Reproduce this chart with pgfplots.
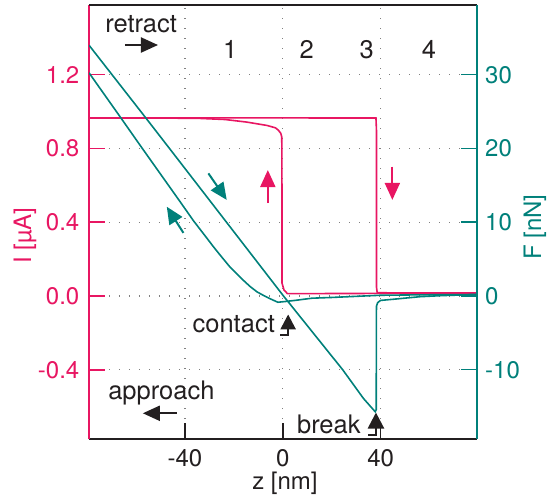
\documentclass[border=0pt]{standalone}
\usepackage{pgfplots}
\pgfplotsset{compat=1.18}
\usepackage{fontspec}
\setmainfont{TeX Gyre Heros}
\usetikzlibrary{arrows.meta}
\definecolor{ipink}{RGB}{232,22,98}
\definecolor{fteal}{RGB}{0,128,122}
\definecolor{txt}{RGB}{35,31,32}
\newcommand{\lblfont}{\fontsize{24bp}{28bp}\selectfont}
\newcommand{\annfont}{\fontsize{25.5bp}{30bp}\selectfont}
\pgfplotsset{
  myaxis/.style={
    scale only axis, width=388bp, height=434bp,
    xmin=-79.2, xmax=79.4,
    tick align=inside, major tick length=16bp,
    every tick label/.append style={font=\lblfont},
  },
}
\tikzset{ann/.style={-{Triangle[width=15bp,length=17bp]}, line width=2bp}}
\begin{document}
\begin{tikzpicture}
\begin{axis}[myaxis,
  ymin=-0.7755, ymax=1.578,
  axis x line*=bottom, axis y line*=left,
  x axis line style={draw=txt, line width=1.3bp},
  y axis line style={draw=ipink, line width=1.5bp},
  xtick={-40,0,40}, xticklabels={-40,0,40},
  ytick={-0.4,0,0.4,0.8,1.2}, yticklabels={-0.4,0.0,0.4,0.8,1.2},
  xtick style={draw=txt, line width=1.5bp},
  ytick style={draw=ipink, line width=1.5bp},
  xticklabel style={color=txt, inner sep=0pt, yshift=-10bp},
  yticklabel style={color=ipink, inner sep=0pt, xshift=-9.5bp},
  grid=major,
  major grid style={draw=gray, line width=1.3bp, dash pattern=on 1.3bp off 8.7bp},
  xlabel={z [nm]}, ylabel={I [µA]},
  every axis x label/.style={at={(axis description cs:0.505,-0.101)}, anchor=center, inner sep=0pt, color=txt, font=\lblfont},
  every axis y label/.style={at={(axis description cs:-0.165,0.468)}, rotate=90, anchor=center, inner sep=0pt, color=ipink, font=\lblfont},
]
\coordinate (SW) at (rel axis cs:0,0);
\coordinate (NE) at (rel axis cs:1,1);
% approach current
\addplot[ipink, line width=1.6bp] coordinates {
(-79.2,0.965) (-50,0.965) (-34,0.963) (-23.6,0.957) (-14.7,0.943) (-6.5,0.925)
(-3,0.912) (-1.8,0.899) (-0.8,0.882) (-0.4,0.862) (-0.3,0.5) (-0.3,0.07)
(0.5,0.033) (1.9,0.013) (10,0.013) (40,0.014) (79.4,0.015)
};
% retract current
\addplot[ipink, line width=1.6bp] coordinates {
(-79.2,0.965) (-40,0.966) (0,0.966) (20,0.965) (38.1,0.965) (38.3,0.9)
(38.3,0.05) (38.6,0.018) (50,0.016) (79.4,0.016)
};
% annotations
\node[anchor=base west, inner sep=0pt, font=\annfont, color=txt] at (axis cs:-72.6,1.428) {retract};
\draw[ann, txt] (axis cs:-64.5,1.361) -- (axis cs:-51.0,1.361);
\node[anchor=base, inner sep=0pt, font=\annfont, color=txt] at (axis cs:-21.5,1.289) {1};
\node[anchor=base, inner sep=0pt, font=\annfont, color=txt] at (axis cs:9.8,1.289) {2};
\node[anchor=base, inner sep=0pt, font=\annfont, color=txt] at (axis cs:34.3,1.289) {3};
\node[anchor=base, inner sep=0pt, font=\annfont, color=txt] at (axis cs:59.8,1.289) {4};
\draw[ann, fteal] (axis cs:-30.4,0.665) -- (axis cs:-22.9,0.521);
\draw[ann, fteal] (axis cs:-40.6,0.342) -- (axis cs:-47.4,0.484);
\draw[ann, ipink] (axis cs:-6.1,0.504) -- (axis cs:-6.1,0.683);
\draw[ann, ipink] (axis cs:44.8,0.701) -- (axis cs:44.8,0.521);
\node[anchor=base east, inner sep=0pt, font=\annfont, color=txt] at (axis cs:-3.15,-0.199) {contact};
\draw[-{Triangle[width=15bp,length=15bp]}, line width=2.5bp, txt] (axis cs:-1.1,-0.2115) -- (axis cs:2.2,-0.2115) -- (axis cs:2.2,-0.100);
\node[anchor=base east, inner sep=0pt, font=\annfont, color=txt] at (axis cs:31.9,-0.748) {break};
\draw[-{Triangle[width=16bp,length=16bp]}, line width=2.5bp, txt] (axis cs:35.0,-0.754) -- (axis cs:38.1,-0.754) -- (axis cs:38.1,-0.632);
\node[anchor=base west, inner sep=0pt, font=\annfont, color=txt] at (axis cs:-71.4,-0.559) {approach};
\draw[ann, txt] (axis cs:-43.3,-0.636) -- (axis cs:-57.2,-0.636);
\end{axis}
\begin{axis}[myaxis,
  ymin=-19.39, ymax=39.45,
  axis x line*=top, axis y line*=right,
  x axis line style={draw=txt, line width=1.3bp},
  y axis line style={draw=fteal, line width=1.5bp},
  xtick=\empty,
  ytick={-10,0,10,20,30}, yticklabels={-10,0,10,20,30},
  ytick style={draw=fteal, line width=1.5bp},
  yticklabel style={color=fteal, inner sep=0pt, xshift=8bp},
  ylabel={F [nN]},
  every axis y label/.style={at={(axis description cs:1.149,0.488)}, rotate=90, anchor=center, inner sep=0pt, color=fteal, font=\lblfont},
]
% approach force
\addplot[fteal, line width=1.6bp] coordinates {
(-79.2,30.26) (-66.5,24.3) (-57.4,20.0) (-42,12.8) (-36.5,10.2) (-30,7.4)
(-28.4,6.7) (-25,5.3) (-21.5,3.9) (-17,2.4) (-13.4,1.3) (-10.5,0.55) (-8,0.1)
(-5,-0.4) (-2,-0.85) (1,-0.75) (5,-0.6) (12,-0.3) (20,-0.2) (30,-0.05)
(40,0.1) (55,0.15) (79.4,0.2)
};
% retract force
\addplot[fteal, line width=1.6bp] coordinates {
(-79.2,34.0) (-56,24.15) (-46.3,20.0) (-23,10.0) (0.3,0.0) (24.5,-10.0)
(33,-13.9) (37.8,-15.7) (38.2,-15.4) (38.3,-1.4) (38.8,-0.9) (40,-0.6)
(45,-0.45) (56,-0.1) (65,0.05) (79.4,0.2)
};
\end{axis}
\pgfresetboundingbox
\path[use as bounding box] ([shift={(-89bp,-61bp)}]SW) rectangle ([shift={(71bp,5bp)}]NE);
\end{tikzpicture}
\end{document}
